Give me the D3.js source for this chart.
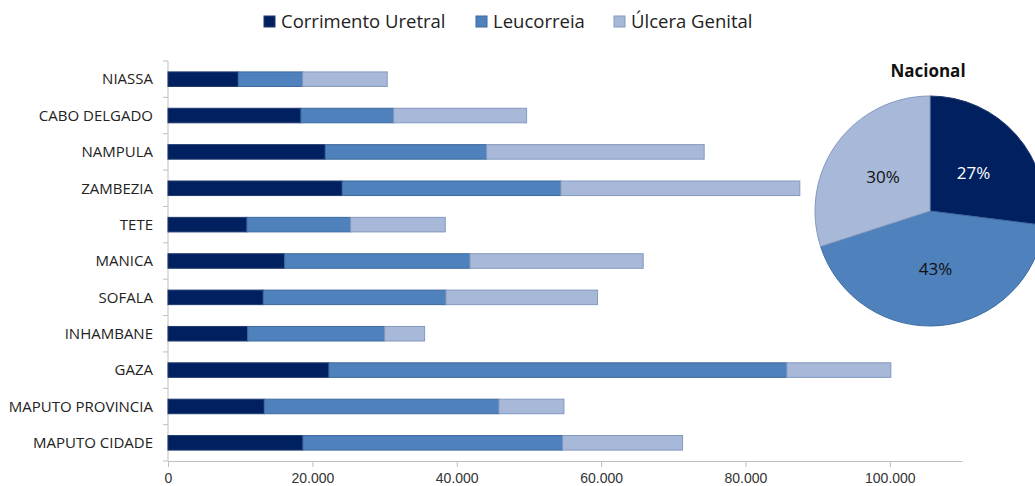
<!DOCTYPE html>
<html>
<head>
<meta charset="utf-8">
<script src="https://cdn.jsdelivr.net/npm/d3@7"></script>
<style>
  body { margin: 0; background: #fff; }
  svg { font-family: "Open Sans", sans-serif; }
  .tick text { fill: #333; }
</style>
</head>
<body>
<svg width="1035" height="486"></svg>
<script>
var provinces = ["NIASSA", "CABO DELGADO", "NAMPULA", "ZAMBEZIA", "TETE", "MANICA",
                 "SOFALA", "INHAMBANE", "GAZA", "MAPUTO PROVINCIA", "MAPUTO CIDADE"];
var seriesNames = ["Corrimento Uretral", "Leucorreia", "Úlcera Genital"];

var corrimento = [9740, 18420, 21790, 24140, 10940, 16160, 13200, 11040, 22300, 13340, 18700];
var leucorreia = [8910, 12840, 22350, 30290, 14360, 25670, 25300, 18970, 63430, 32500, 35970];
var ulcera     = [11720, 18420, 30140, 33100, 13110, 24000, 21010, 5540, 14410, 9010, 16620];

var xTicks = [0, 20000, 40000, 60000, 80000, 100000];

// national shares shown in the pie
var nacional = [27, 43, 30];

var colors = ["#002060", "#4f81bd", "#a7b8d8"];
var strokes = ["#1f3a6e", "#3d6a9e", "#8299bf"];

var svg = d3.select("svg");

var margin = {top: 61, left: 168, bottom: 25},
    plotW = 794,
    plotH = 400;

var x = d3.scaleLinear().domain([0, 110000]).range([margin.left, margin.left + plotW]);
var y = d3.scaleBand().domain(provinces).range([margin.top, margin.top + plotH]).paddingInner(0.6).paddingOuter(0.3);
var yBand = d3.scaleBand().domain(provinces).range([margin.top, margin.top + plotH]);

var rows = provinces.map(function(p, i) {
  return {province: p, "Corrimento Uretral": corrimento[i], "Leucorreia": leucorreia[i], "Úlcera Genital": ulcera[i]};
});
var stacked = d3.stack().keys(seriesNames)(rows);

// x axis
var xAxis = svg.append("g")
  .attr("transform", "translate(0," + (margin.top + plotH) + ")")
  .call(d3.axisBottom(x).tickValues(xTicks).tickSize(6).tickSizeOuter(0)
    .tickFormat(function(d) { return d3.format(",")(d).replace(/,/g, "."); }));
xAxis.select(".domain").attr("stroke", "#bfbfbf");
xAxis.selectAll(".tick line").attr("stroke", "#bfbfbf");
xAxis.selectAll(".tick text").attr("font-size", 14).attr("dy", "0.95em");

// y axis
svg.append("line")
  .attr("x1", margin.left).attr("x2", margin.left)
  .attr("y1", margin.top).attr("y2", margin.top + plotH)
  .attr("stroke", "#bfbfbf");

var bounds = provinces.map(function(p) { return yBand(p); }).concat([margin.top + plotH]);
svg.append("g").selectAll("line")
  .data(bounds)
  .enter()
  .append("line")
  .attr("x1", margin.left - 5).attr("x2", margin.left)
  .attr("y1", function(d) { return d; }).attr("y2", function(d) { return d; })
  .attr("stroke", "#bfbfbf");

svg.append("g").selectAll("text")
  .data(provinces)
  .enter()
  .append("text")
  .attr("x", margin.left - 15)
  .attr("y", function(d) { return yBand(d) + yBand.bandwidth() / 2; })
  .attr("dy", "0.35em")
  .attr("text-anchor", "end")
  .attr("font-size", 15)
  .attr("fill", "#222")
  .text(function(d) { return d; });

// bars
svg.append("g").selectAll("g")
  .data(stacked)
  .enter()
  .append("g")
  .attr("fill", function(d, i) { return colors[i]; })
  .attr("stroke", function(d, i) { return strokes[i]; })
  .selectAll("rect")
  .data(function(d) { return d; })
  .enter()
  .append("rect")
  .attr("x", function(d) { return x(d[0]); })
  .attr("y", function(d) { return y(d.data.province); })
  .attr("width", function(d) { return x(d[1]) - x(d[0]); })
  .attr("height", y.bandwidth());

// legend
var legendX = [264, 476, 614];
var legend = svg.append("g").selectAll("g")
  .data(seriesNames)
  .enter()
  .append("g")
  .attr("transform", function(d, i) { return "translate(" + legendX[i] + ",16)"; });
legend.append("rect")
  .attr("width", 11).attr("height", 11)
  .attr("fill", function(d, i) { return colors[i]; })
  .attr("stroke", function(d, i) { return strokes[i]; });
legend.append("text")
  .attr("x", 17).attr("y", 6)
  .attr("dy", "0.35em")
  .attr("font-size", 18.5)
  .attr("fill", "#222")
  .text(function(d) { return d; });

// pie
var cx = 930, cy = 211, R = 115;
var pie = d3.pie().sort(null);
var arc = d3.arc().innerRadius(0).outerRadius(R);

var pieG = svg.append("g").attr("transform", "translate(" + cx + "," + cy + ")");
var slices = pie(nacional);
pieG.selectAll("path")
  .data(slices)
  .enter()
  .append("path")
  .attr("d", arc)
  .attr("fill", function(d, i) { return colors[i]; })
  .attr("stroke", function(d, i) { return strokes[i]; })
  .attr("stroke-width", 1);

pieG.selectAll("text")
  .data(slices)
  .enter()
  .append("text")
  .attr("transform", function(d) {
    var a = (d.startAngle + d.endAngle) / 2;
    return "translate(" + (Math.sin(a) * 58) + "," + (-Math.cos(a) * 58) + ")";
  })
  .attr("dy", "0.35em")
  .attr("text-anchor", "middle")
  .attr("font-size", 17)
  .attr("fill", function(d, i) { return i == 0 ? "#fff" : "#111"; })
  .text(function(d) { return d.data + "%"; });

svg.append("text")
  .attr("x", 928).attr("y", 71)
  .attr("dy", "0.35em")
  .attr("text-anchor", "middle")
  .attr("font-size", 17)
  .attr("font-weight", "bold")
  .attr("fill", "#111")
  .text("Nacional");
</script>
</body>
</html>
